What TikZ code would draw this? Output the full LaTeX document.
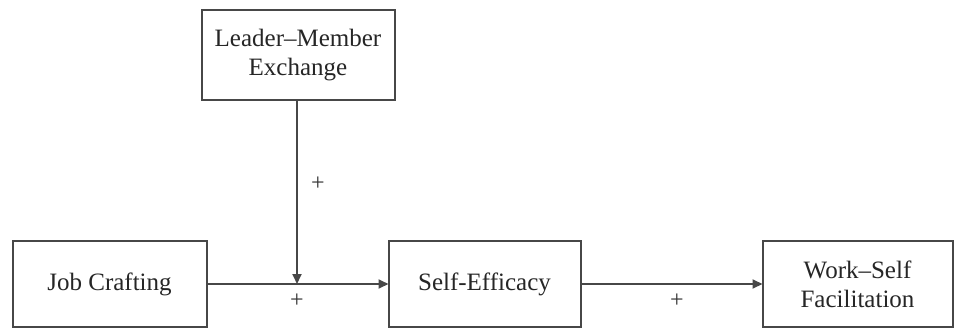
\documentclass[tikz,border=0pt]{standalone}
\usepackage{fontspec}
\setmainfont{Liberation Serif}
\usetikzlibrary{arrows.meta}
\begin{document}
\begin{tikzpicture}[x=1pt,y=-1pt,
  box/.style={draw=black!72, line width=2pt, fill=white, inner sep=0pt, outer sep=0pt,
    text=black!85, align=center, font=\fontsize{25}{29}\selectfont},
  link/.style={draw=black!72, line width=1.8pt, -{Triangle[length=10pt,width=9pt]}},
  sign/.style={text=black!80, font=\fontsize{24}{24}\selectfont, inner sep=0pt}]
  \useasboundingbox (0,0) rectangle (955,329);
  % constructs of the model
  \node[box, minimum width=193pt, minimum height=89pt] (lmx) at (298,55) {Leader--Member\\Exchange};
  \node[box, minimum width=194pt, minimum height=86pt] (jc)  at (109.5,284) {Job Crafting};
  \node[box, minimum width=192pt, minimum height=86pt] (se)  at (484.5,284) {Self-Efficacy};
  \node[box, minimum width=190pt, minimum height=86pt] (wsf) at (857.5,284) {Work--Self\\Facilitation};
  % paths
  \coordinate (m) at (297,284);
  \draw[link] (jc.east) -- (se.west);
  \draw[link] (se.east) -- (wsf.west);
  \draw[link] (lmx.south -| m) -- (m);
  % signs of the effects
  \node[sign] (p1) at (318,184) {+};
  \node[sign] (p2) at (297,301) {+};
  \node[sign] (p3) at (677,301) {+};
\end{tikzpicture}
\end{document}
